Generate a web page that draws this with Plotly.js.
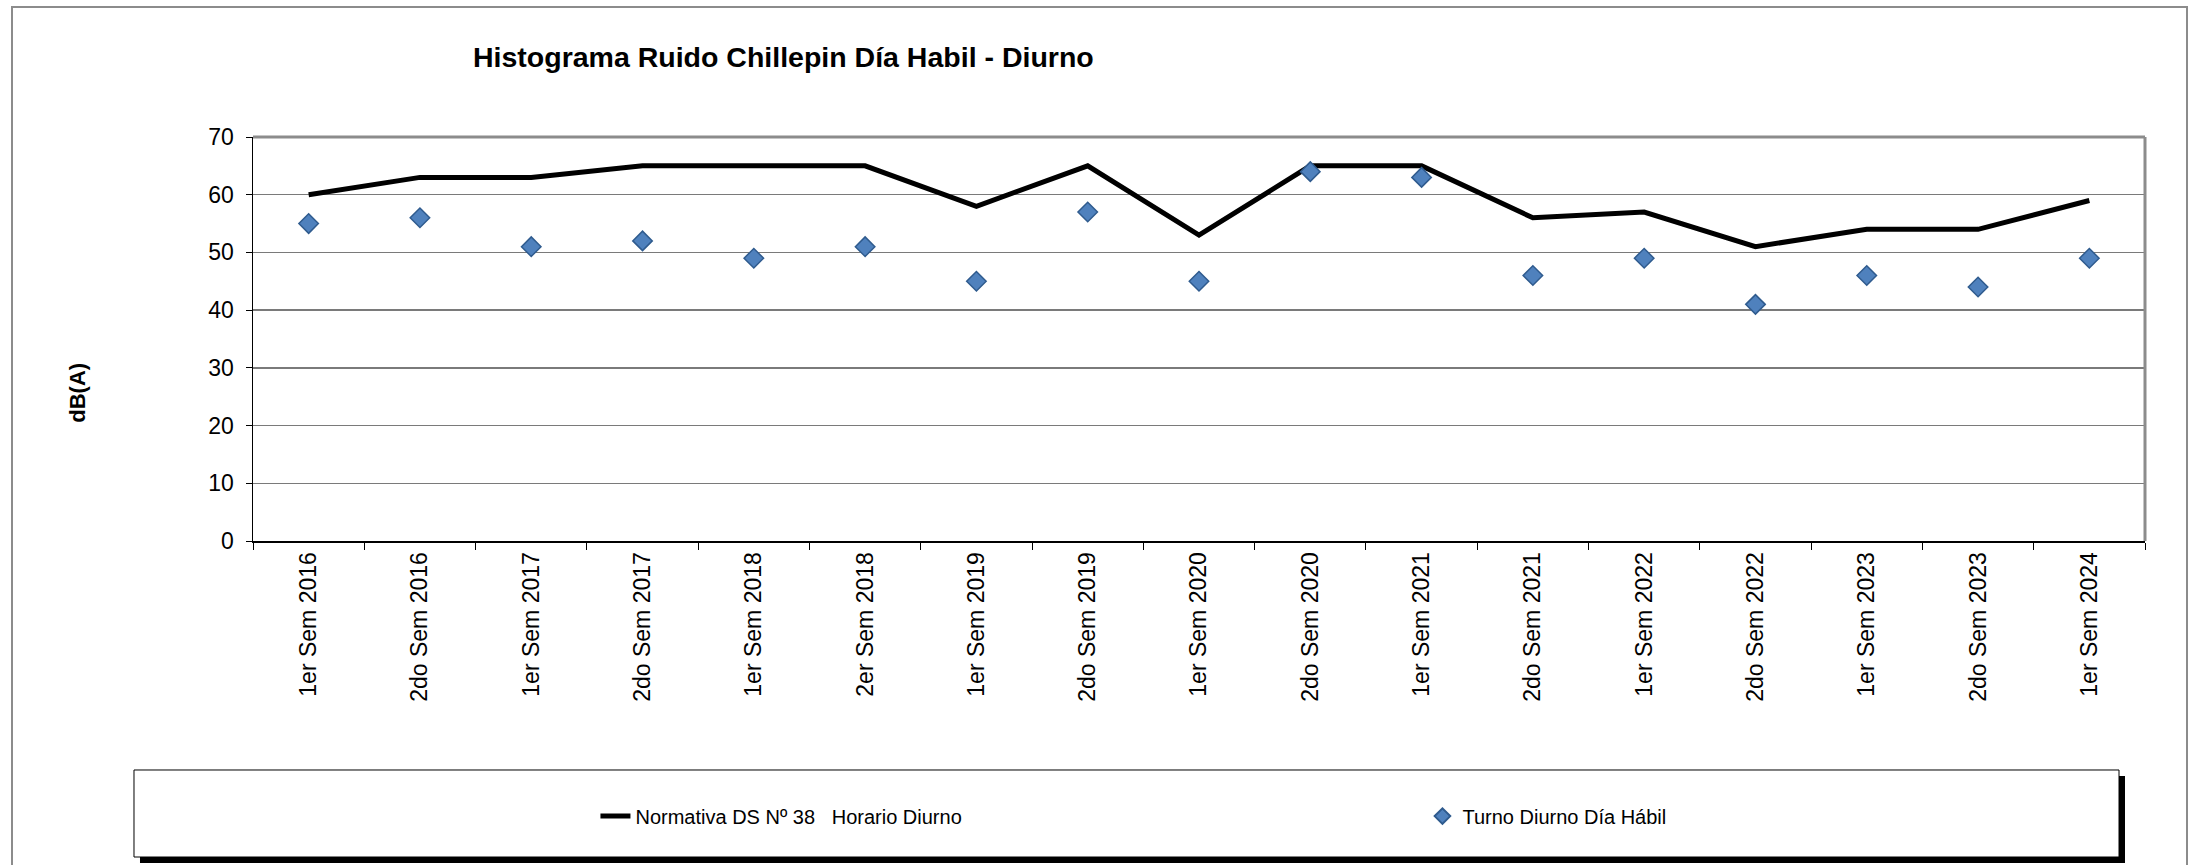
<!DOCTYPE html>
<html>
<head>
<meta charset="utf-8">
<script src="https://cdn.plot.ly/plotly-3.0.1.min.js"></script>
<style>
  html, body { margin: 0; padding: 0; background: #ffffff; }
  #chart { width: 2199px; height: 865px; }
</style>
</head>
<body>
<div id="chart"></div>
<script>
// ---- data ----
const categories = [
  "1er Sem 2016", "2do Sem 2016", "1er Sem 2017", "2do Sem 2017",
  "1er Sem 2018", "2er Sem 2018", "1er Sem 2019", "2do Sem 2019",
  "1er Sem 2020", "2do Sem 2020", "1er Sem 2021", "2do Sem 2021",
  "1er Sem 2022", "2do Sem 2022", "1er Sem 2023", "2do Sem 2023",
  "1er Sem 2024"
];
const normativa = [60, 63, 63, 65, 65, 65, 58, 65, 53, 65, 65, 56, 57, 51, 54, 54, 59];
const turnoDiurno = [55, 56, 51, 52, 49, 51, 45, 57, 45, 64, 63, 46, 49, 41, 46, 44, 49];
const yTickValues = [0, 10, 20, 30, 40, 50, 60, 70];

const seriesNames = ["Normativa DS Nº 38\u00a0\u00a0 Horario Diurno", "Turno Diurno Día Hábil"];
const chartTitle = "Histograma Ruido Chillepin Día Habil - Diurno";
const yTitle = "dB(A)";

const FONT = "Liberation Sans, Arial, Helvetica, sans-serif";

const traces = [
  {
    type: "scatter",
    mode: "lines",
    name: seriesNames[0],
    x: categories,
    y: normativa,
    line: { color: "#000000", width: 5 },
    hoverinfo: "skip"
  },
  {
    type: "scatter",
    mode: "markers",
    name: seriesNames[1],
    x: categories,
    y: turnoDiurno,
    marker: {
      symbol: "diamond",
      size: 15,
      color: "#4F81BD",
      line: { color: "#2F5B8E", width: 1.5 }
    },
    hoverinfo: "skip"
  }
];

const layout = {
  width: 2199,
  height: 865,
  margin: { l: 253, r: 54, t: 137, b: 324, autoexpand: false },
  paper_bgcolor: "#ffffff",
  plot_bgcolor: "#ffffff",
  font: { family: FONT, color: "#000000", size: 20 },
  showlegend: true,
  title: {
    text: "<b>" + chartTitle + "</b>",
    font: { family: FONT, size: 28.5, color: "#000000" },
    xref: "container",
    yref: "container",
    x: 473 / 2199,
    xanchor: "left",
    y: 1 - 57 / 865,
    yanchor: "middle"
  },
  xaxis: {
    type: "category",
    range: [-0.5, categories.length - 0.5],
    autorange: false,
    tickson: "boundaries",
    ticks: "outside",
    ticklen: 7,
    tickwidth: 1,
    tickcolor: "#000000",
    tickangle: -90,
    tickfont: { family: FONT, size: 23, color: "#000000" },
    showline: true,
    linecolor: "#000000",
    linewidth: 2,
    showgrid: false,
    zeroline: false,
    fixedrange: true
  },
  yaxis: {
    range: [0, 70],
    autorange: false,
    tickvals: yTickValues,
    ticks: "outside",
    ticklen: 6,
    tickwidth: 1,
    tickcolor: "#000000",
    ticklabelstandoff: 7,
    tickfont: { family: FONT, size: 23, color: "#000000" },
    showline: true,
    linecolor: "#000000",
    linewidth: 1.5,
    showgrid: true,
    gridcolor: "#7a7a7a",
    gridwidth: 1.5,
    zeroline: false,
    fixedrange: true
  },
  legend: {
    orientation: "h",
    x: 0.181,
    xanchor: "left",
    y: -0.681,
    yanchor: "middle",
    bgcolor: "rgba(0,0,0,0)",
    borderwidth: 0,
    font: { family: FONT, size: 20, color: "#000000" },
    entrywidth: 782,
    entrywidthmode: "pixels",
    itemsizing: "constant"
  },
  annotations: [
    {
      text: "<b>" + yTitle + "</b>",
      xref: "paper",
      yref: "paper",
      x: -0.0925,
      y: 0.367,
      xanchor: "center",
      yanchor: "middle",
      textangle: -90,
      showarrow: false,
      font: { family: FONT, size: 22, color: "#000000" }
    }
  ],
  shapes: [
    // outer chart frame
    { type: "rect", xref: "paper", yref: "paper", x0: -0.12738, x1: 1.02220, y0: -0.8391, y1: 1.32178,
      line: { color: "#8c8c8c", width: 2 }, fillcolor: "rgba(0,0,0,0)", layer: "below" },
    // plot area top & right borders
    { type: "line", xref: "paper", yref: "paper", x0: 0, x1: 1, y0: 1, y1: 1,
      line: { color: "#8c8c8c", width: 3 } },
    { type: "line", xref: "paper", yref: "paper", x0: 1, x1: 1, y0: 0, y1: 1,
      line: { color: "#8c8c8c", width: 3 } },
    // legend shadow
    { type: "rect", xref: "paper", yref: "paper", x0: -0.05973, x1: 0.98943, y0: -0.79703, y1: -0.58168,
      line: { width: 0 }, fillcolor: "#000000" },
    // legend box
    { type: "rect", xref: "paper", yref: "paper", x0: -0.06290, x1: 0.98626, y0: -0.78218, y1: -0.56683,
      line: { color: "#000000", width: 1 }, fillcolor: "#ffffff" }
  ]
};

Plotly.newPlot("chart", traces, layout, { staticPlot: true, displayModeBar: false });
</script>
</body>
</html>
